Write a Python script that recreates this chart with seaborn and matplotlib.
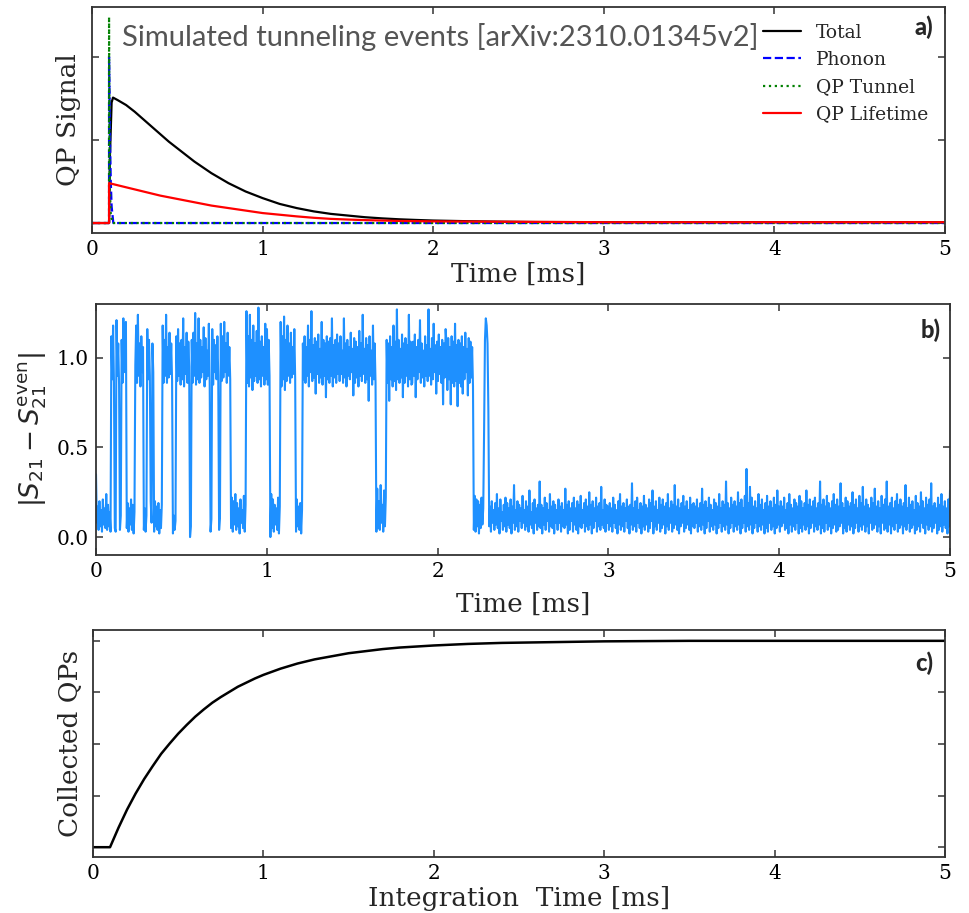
import numpy as np
import pandas as pd
import matplotlib
matplotlib.use("Agg")
import matplotlib.pyplot as plt
import seaborn as sns

# ---------------- Panel a: QP signal components ----------------
a_total_t = [0.0, 0.1, 0.105, 0.115, 0.123, 0.15, 0.2, 0.25, 0.3, 0.35, 0.4, 0.45, 0.5, 0.55,
             0.6, 0.65, 0.7, 0.75, 0.8, 0.85, 0.9, 0.95, 1.0, 1.05, 1.1, 1.15, 1.2, 1.3,
             1.4, 1.5, 1.6, 1.7, 1.8, 1.9, 2.0, 2.2, 2.4, 2.6, 3.0, 5.0]
a_total_v = [0.0, 0.0, 0.8, 1.45, 1.51, 1.48, 1.42, 1.34, 1.25, 1.16, 1.07, 0.98, 0.90, 0.82,
             0.74, 0.67, 0.60, 0.54, 0.48, 0.43, 0.38, 0.34, 0.30, 0.265, 0.23, 0.205, 0.18, 0.14,
             0.11, 0.09, 0.07, 0.056, 0.045, 0.037, 0.03, 0.022, 0.016, 0.012, 0.01, 0.01]
a_phonon_t = [0.0, 0.1, 0.1, 0.105, 0.11, 0.115, 0.125, 5.0]
a_phonon_v = [0.0, 0.0, 2.0, 1.1, 0.5, 0.2, 0.0, 0.0]
a_tunnel_t = [0.0, 0.1, 0.1, 0.102, 0.105, 0.11, 0.12, 5.0]
a_tunnel_v = [0.0, 0.0, 2.48, 1.2, 0.4, 0.1, 0.0, 0.0]
a_life_t = [0.0, 0.1, 0.1, 0.15, 0.2, 0.25, 0.3, 0.35, 0.4, 0.45, 0.5, 0.55, 0.6, 0.65, 0.7,
            0.75, 0.8, 0.85, 0.9, 0.95, 1.0, 1.1, 1.2, 1.3, 1.4, 1.5, 1.6, 1.8, 2.0, 2.5,
            3.0, 5.0]
a_life_v = [0.0, 0.0, 0.48, 0.455, 0.43, 0.405, 0.38, 0.355, 0.33, 0.31, 0.29, 0.27, 0.25, 0.23,
            0.21, 0.195, 0.18, 0.165, 0.15, 0.135, 0.12, 0.10, 0.08, 0.063, 0.05, 0.042, 0.035,
            0.025, 0.02, 0.015, 0.01, 0.01]
a_labels = ["Total", "Phonon", "QP Tunnel", "QP Lifetime"]

# ---------------- Panel b: |S21 - S21_even| (x100), 0.005 ms samples ----------------
b_chunk0 = [35, 8, 17, 4, 20, 6, 15, 3, 21, 7, 16, 5, 24, 4, 18, 6, 14, 3,
            112, 88, 118, 86, 5, 3, 121, 90, 108, 85, 4, 12, 110, 86, 122, 92, 109, 120,
            5, 19, 3, 16, 7, 21, 4, 18, 2, 14,
            96, 118, 86, 124, 90, 108, 84, 112, 92, 106,
            4, 16, 3, 12,
            116, 88, 110, 90, 20, 8, 108, 92,
            3, 20, 6, 17, 4, 19, 2, 15, 5, 18,
            118, 86, 110, 90, 124, 86, 106, 89, 114, 91, 108, 87,
            2, 12, 4, 9,
            112, 87, 116, 90, 108, 85]
b_chunk1 = [110, 88, 122, 84, 106, 91, 114, 86, 109, 95,
            0, 6,
            110, 86, 114, 90, 125, 85, 108, 88, 122, 86, 110, 89, 106, 92, 117, 84, 111, 88,
            104, 90, 119, 86,
            3, 10,
            116, 85, 110, 92, 107, 88, 112, 90,
            4, 11,
            119, 87, 112, 89, 120, 92, 108, 86, 114, 90, 106, 88,
            5, 22, 3, 20, 7, 24, 4, 19, 6, 16, 2, 21, 8, 15, 5, 23, 3, 18,
            126, 86, 112, 84, 124, 89, 110, 82, 118, 87, 108, 90, 115, 86, 128, 88, 109, 84,
            112, 90, 106, 85, 119, 88]
b_chunk2 = [116, 85, 110, 90,
            0, 24, 5, 21, 3, 18, 7, 16, 4, 22, 2, 17,
            120, 84, 112, 88, 123, 82, 110, 87, 118, 90, 108, 86, 114, 89, 106, 91, 116, 88,
            3, 21, 6, 17, 4, 19, 2, 15,
            108, 88, 112, 86, 106, 90, 118, 84, 110, 92,
            126, 87, 107, 89, 111, 80, 109, 91, 113, 86,
            105, 89, 120, 85, 110, 90, 108, 78, 112, 88,
            109, 86, 111, 90, 122, 84, 107, 89, 110, 86,
            113, 91, 108, 87, 112, 91, 104, 86, 122, 89,
            108, 84, 110, 90, 106, 88, 114, 92]
b_chunk3 = [105, 79, 111, 86, 109, 89, 106, 84, 115, 90,
            108, 87, 124, 91, 105, 86, 111, 88, 107, 76,
            112, 90, 104, 85, 118, 88, 108, 86,
            3, 27, 5, 20, 4, 29, 8, 18, 3, 26, 6, 22,
            110, 86, 108, 76, 112, 88, 106, 84, 118, 87,
            109, 82, 127, 88, 110, 86, 105, 89, 113, 78,
            108, 86, 111, 90, 107, 84, 124, 88, 109, 85,
            86, 109, 90, 113, 78, 106, 88, 110, 92, 121,
            86, 108, 89, 104, 84, 112, 90, 107, 87, 127,
            90, 105, 85, 111, 88, 119, 92, 107, 80, 109]
b_chunk4 = [87, 113, 91, 106, 86, 110, 74, 108, 89, 116,
            108, 82, 111, 88, 106, 74, 112, 86, 109, 84,
            119, 87, 107, 73, 110, 86, 108, 84, 112, 80,
            106, 88, 114, 92, 105, 79, 111, 86, 109, 89,
            106, 84,
            4, 23, 3, 21, 6, 20, 2, 18, 5, 22, 7, 16,
            60, 110, 122, 118, 108, 70,
            6, 17, 3, 20, 8, 15, 4, 19, 7, 24, 5, 16, 2, 21, 9, 14, 4, 18, 6, 22,
            3, 19, 7, 16, 5, 21, 2, 17, 8, 29, 4, 15, 6, 20, 3, 18, 9, 16, 5, 23]
b_chunk5 = [8, 15, 4, 20, 6, 17, 3, 26, 7, 14, 5, 19, 2, 21, 8, 16, 4, 18, 6, 31,
            5, 18, 2, 16, 7, 22, 4, 19, 9, 15, 3, 24, 6, 17, 5, 20, 2, 18, 8, 15,
            4, 21, 8, 17, 3, 19, 6, 15, 5, 27, 7, 18, 2, 20, 4, 16, 9, 19, 3, 22,
            7, 16, 4, 20, 2, 18, 6, 23, 5, 15, 8, 19, 3, 21, 6, 17, 4, 25, 7, 18,
            2, 20, 5, 16, 9, 22, 3, 17, 6, 19, 4, 28, 7, 15, 5, 21, 3, 18, 8, 17]
b_chunk6 = [4, 19, 6, 16, 3, 22, 8, 18, 5, 15, 2, 20, 7, 24, 4, 17, 6, 19, 3, 16,
            9, 21, 5, 17, 2, 18, 7, 30, 4, 16, 6, 20, 3, 22, 8, 15, 5, 19, 2, 17,
            6, 23, 4, 18, 7, 16, 3, 21, 5, 19, 9, 26, 2, 17, 6, 20, 4, 15, 8, 22,
            3, 18, 5, 21, 7, 17, 2, 19, 6, 24, 4, 16, 8, 20, 3, 18, 5, 29, 7, 17,
            4, 21, 2, 16, 6, 19, 8, 23, 3, 17, 5, 20, 7, 15, 4, 22, 2, 18, 6, 19]
b_chunk7 = [5, 17, 8, 21, 3, 16, 6, 19, 4, 27, 7, 18, 2, 20, 5, 16, 9, 22, 3, 18,
            6, 15, 4, 21, 7, 19, 2, 17, 5, 24, 8, 16, 3, 20, 6, 18, 4, 31, 7, 19,
            2, 16, 5, 22, 8, 18, 3, 20, 6, 17, 4, 25, 7, 19, 2, 21, 5, 16, 8, 23,
            3, 38, 6, 19, 4, 28, 7, 22, 2, 17, 5, 20, 8, 16, 3, 24, 6, 18, 4, 21,
            7, 15, 2, 19, 5, 23, 3, 17, 8, 20, 4, 16, 6, 22, 2, 18, 5, 26, 7, 17]
b_chunk8 = [3, 20, 6, 17, 8, 22, 4, 15, 5, 19, 2, 24, 7, 18, 3, 16, 6, 21, 4, 19,
            8, 17, 2, 23, 5, 20, 3, 16, 7, 19, 4, 26, 6, 18, 2, 21, 5, 17, 8, 20,
            3, 22, 6, 16, 4, 19, 7, 31, 2, 18, 5, 21, 3, 17, 8, 23, 4, 19, 6, 16,
            2, 20, 5, 24, 7, 18, 3, 21, 4, 17, 6, 30, 8, 19, 2, 16, 5, 22, 3, 20,
            7, 17, 4, 19, 6, 25, 2, 18, 5, 21, 8, 16, 3, 23, 6, 19, 4, 28, 7, 17]
b_chunk9 = [3, 21, 6, 18, 2, 16, 8, 22, 4, 19, 5, 27, 7, 17, 3, 20, 6, 16, 2, 23,
            8, 18, 4, 21, 5, 31, 3, 17, 7, 19, 2, 22, 6, 16, 4, 20, 8, 24, 3, 18,
            5, 21, 7, 17, 2, 19, 6, 29, 4, 16, 8, 22, 3, 18, 5, 20, 7, 15, 2, 23,
            4, 19, 6, 17, 3, 25, 8, 20, 5, 16, 2, 22, 7, 18, 4, 21, 6, 30, 3, 17,
            5, 19, 8, 16, 2, 22, 4, 18, 6, 24, 3, 17, 7, 20, 5, 16, 2, 21, 6, 26]
b_yticks = [0.0, 0.5, 1.0]

# ---------------- Panel c: collected QPs ----------------
c_t = [0.0, 0.1, 0.15, 0.2, 0.25, 0.3, 0.35, 0.4, 0.45, 0.5, 0.55, 0.6, 0.65, 0.7, 0.75,
       0.8, 0.85, 0.9, 0.95, 1.0, 1.1, 1.2, 1.3, 1.4, 1.5, 1.6, 1.7, 1.8, 1.9, 2.0,
       2.2, 2.4, 2.6, 2.8, 3.0, 3.5, 4.0, 5.0]
c_v = [0.0, 0.0, 0.38, 0.73, 1.04, 1.32, 1.57, 1.81, 2.01, 2.20, 2.37, 2.53, 2.67, 2.80, 2.91,
       3.01, 3.11, 3.19, 3.27, 3.34, 3.46, 3.56, 3.64, 3.70, 3.76, 3.80, 3.84, 3.87, 3.89, 3.91,
       3.94, 3.96, 3.97, 3.98, 3.99, 4.0, 4.0, 4.0]

xticks = [0, 1, 2, 3, 4, 5]

# ---------------- styling ----------------
sns.set_style("ticks")
plt.rcParams["font.family"] = ["DejaVu Serif"]
plt.rcParams["mathtext.fontset"] = "dejavusans"
SPINE = "#333333"

fig = plt.figure(figsize=(9.69, 9.13), dpi=100)
W, H = 969, 913


def add_ax(l, t, r, b):
    return fig.add_axes([l / W, 1 - b / H, (r - l) / W, (b - t) / H])


def style(ax):
    for s in ax.spines.values():
        s.set_color(SPINE)
        s.set_linewidth(1.3)
    ax.tick_params(which="both", direction="in", top=True, right=True,
                   length=5, width=1.1, color=SPINE, labelsize=14.5,
                   labelcolor="black", pad=5)


PANEL_FONT = ["Lato", "DejaVu Sans"]

# Panel a
ax1 = add_ax(92, 7, 945, 233)
sns.lineplot(x=a_total_t, y=a_total_v, ax=ax1, color="black", lw=1.6,
             sort=False, estimator=None, label=a_labels[0])
sns.lineplot(x=a_phonon_t, y=a_phonon_v, ax=ax1, color="blue", lw=1.6, linestyle="--",
             sort=False, estimator=None, label=a_labels[1])
sns.lineplot(x=a_tunnel_t, y=a_tunnel_v, ax=ax1, color="green", lw=1.6, linestyle=":",
             sort=False, estimator=None, label=a_labels[2])
sns.lineplot(x=a_life_t, y=a_life_v, ax=ax1, color="red", lw=1.6,
             sort=False, estimator=None, label=a_labels[3])
ax1.set_xlim(0, 5)
ax1.set_ylim(-0.12, 2.6)
ax1.set_xticks(xticks)
ax1.set_yticks([0, 1, 2])
ax1.set_yticklabels([])
style(ax1)
ax1.set_xlabel("Time [ms]", fontsize=19, labelpad=2)
ax1.set_ylabel("QP Signal", fontsize=19, labelpad=3)
ax1.legend(loc="upper right", bbox_to_anchor=(1.0, 1.0), frameon=False,
           fontsize=13.5, handlelength=2.0, labelspacing=0.49, borderaxespad=0.5,
           handletextpad=0.8)
ax1.text(0.035, 0.867, "Simulated tunneling events [arXiv:2310.01345v2]",
         transform=ax1.transAxes, ha="left", va="center", fontsize=21,
         family=PANEL_FONT, color="#555555")
ax1.text(0.986, 0.912, "a)", transform=ax1.transAxes, ha="right", va="center",
         fontsize=17, fontweight="black", family=PANEL_FONT)

# Panel b
b_vals = np.array(b_chunk0 + b_chunk1 + b_chunk2 + b_chunk3 + b_chunk4 +
                  b_chunk5 + b_chunk6 + b_chunk7 + b_chunk8 + b_chunk9) / 100.0
b_t = np.linspace(0, 5, len(b_vals))
ax2 = add_ax(96, 304, 950, 555)
sns.lineplot(x=b_t, y=b_vals, ax=ax2, color="#1E90FF", lw=1.5,
             sort=False, estimator=None)
ax2.set_xlim(0, 5)
ax2.set_ylim(-0.10, 1.30)
ax2.set_xticks(xticks)
ax2.set_yticks(b_yticks)
ax2.set_yticklabels([f"{v:.1f}" for v in b_yticks])
style(ax2)
ax2.set_xlabel("Time [ms]", fontsize=19, labelpad=8)
ax2.set_ylabel(r"$|S_{21} - S_{21}^{\mathrm{even}}|$", fontsize=19, labelpad=6)
ax2.text(0.989, 0.896, "b)", transform=ax2.transAxes, ha="right", va="center",
         fontsize=17, fontweight="black", family=PANEL_FONT)

# Panel c
ax3 = add_ax(93, 630, 945, 857)
sns.lineplot(x=c_t, y=c_v, ax=ax3, color="black", lw=1.8, sort=False, estimator=None)
ax3.set_xlim(0, 5)
ax3.set_ylim(-0.19, 4.21)
ax3.set_xticks(xticks)
ax3.set_yticks([0, 1, 2, 3, 4])
ax3.set_yticklabels([])
style(ax3)
ax3.set_xlabel("Integration  Time [ms]", fontsize=19, labelpad=2)
ax3.set_ylabel("Collected QPs", fontsize=19, labelpad=2)
ax3.text(0.986, 0.855, "c)", transform=ax3.transAxes, ha="right", va="center",
         fontsize=17, fontweight="black", family=PANEL_FONT)

fig.savefig("out.png", dpi=100)
